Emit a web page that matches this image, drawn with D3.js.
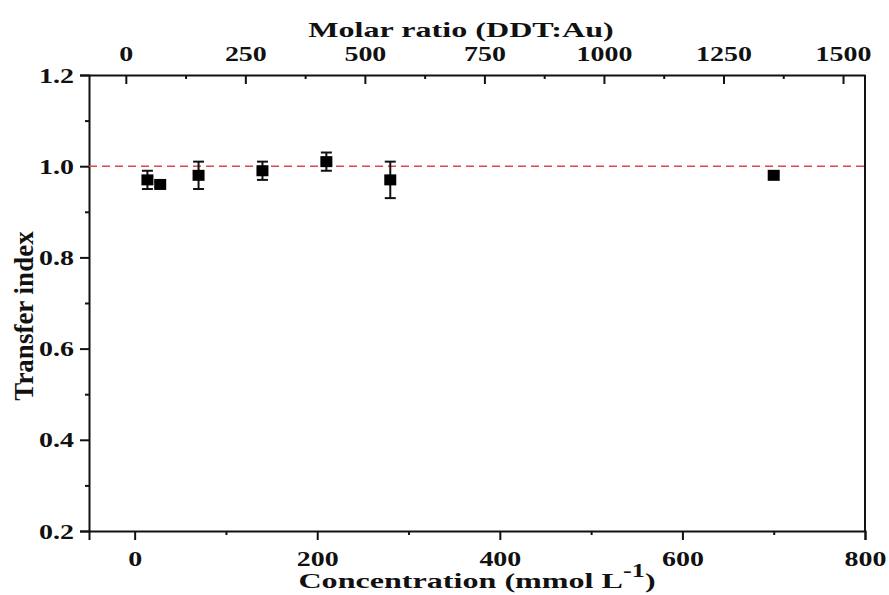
<!DOCTYPE html>
<html>
<head>
<meta charset="utf-8">
<script src="https://cdn.jsdelivr.net/npm/d3@7"></script>
<style>
  html, body { margin: 0; padding: 0; background: #fff; }
  svg { display: block; }
</style>
</head>
<body>
<script>
// concentration (mmol L-1), transfer index, error (±)
const concentration = [14, 28, 70, 140, 210, 280, 700];
const transferIndex = [0.97, 0.96, 0.98, 0.99, 1.01, 0.97, 0.98];
const errors = [0.02, 0.005, 0.03, 0.02, 0.02, 0.04, 0];

const bottomTicks = [0, 200, 400, 600, 800];
const bottomMinor = [100, 300, 500, 700];
const topTicks = [0, 250, 500, 750, 1000, 1250, 1500];
const topMinor = [125, 375, 625, 875, 1125, 1375];
const leftTicks = [0.2, 0.4, 0.6, 0.8, 1.0, 1.2];
const leftMinor = [0.3, 0.5, 0.7, 0.9, 1.1];
const referenceLevel = 1.0;

const width = 889, height = 595;
const margin = { top: 75, right: 24, bottom: 64, left: 89 };
const innerW = width - margin.left - margin.right;
const innerH = height - margin.top - margin.bottom;
const font = "'Liberation Serif', 'Times New Roman', serif";
const ink = "#111";
const tickStretch = 1.27;   // the original lettering is wide
const titleStretch = 1.46;

const svg = d3.select("body").append("svg")
  .attr("width", width)
  .attr("height", height)
  .style("font-family", font);

const g = svg.append("g")
  .attr("transform", `translate(${margin.left},${margin.top})`);

const x = d3.scaleLinear().domain([-50, 800]).range([0, innerW]);
const xTop = d3.scaleLinear().domain([-77, 1546]).range([0, innerW]);
const y = d3.scaleLinear().domain([0.2, 1.2]).range([innerH, 0]);

function styleAxis(sel) {
  sel.attr("font-size", null).attr("font-family", null);
  sel.selectAll("path, line").attr("stroke", ink).attr("stroke-width", 2);
  sel.selectAll("text")
    .attr("fill", ink)
    .attr("transform", `scale(${tickStretch},1)`)
    .style("font-size", "22px")
    .style("font-weight", "bold")
    .style("font-family", font);
}

// bottom
g.append("g")
  .attr("transform", `translate(0,${innerH})`)
  .call(d3.axisBottom(x).tickValues(bottomTicks).tickSize(9).tickPadding(10).tickFormat(d3.format("d")))
  .call(styleAxis);
g.append("g")
  .attr("transform", `translate(0,${innerH})`)
  .call(d3.axisBottom(x).tickValues(bottomMinor).tickSize(4).tickFormat(""))
  .call(styleAxis)
  .call(s => s.select(".domain").remove());

// top (inward ticks)
g.append("g")
  .call(d3.axisTop(xTop).tickValues(topTicks).tickSizeInner(-9).tickSizeOuter(0).tickPadding(14).tickFormat(d3.format("d")))
  .call(styleAxis);
g.append("g")
  .call(d3.axisTop(xTop).tickValues(topMinor).tickSizeInner(-4).tickSizeOuter(0).tickFormat(""))
  .call(styleAxis)
  .call(s => s.select(".domain").remove());

// left
g.append("g")
  .call(d3.axisLeft(y).tickValues(leftTicks).tickSize(9).tickFormat(d3.format(".1f")))
  .call(styleAxis)
  .call(s => s.selectAll("text").attr("x", -15 / tickStretch));
g.append("g")
  .call(d3.axisLeft(y).tickValues(leftMinor).tickSize(4).tickFormat(""))
  .call(styleAxis)
  .call(s => s.select(".domain").remove());

// right frame line
g.append("line")
  .attr("x1", innerW).attr("x2", innerW)
  .attr("y1", 0).attr("y2", innerH)
  .attr("stroke", ink).attr("stroke-width", 2);

// reference line
g.append("line")
  .attr("x1", 0).attr("x2", innerW)
  .attr("y1", y(referenceLevel)).attr("y2", y(referenceLevel))
  .attr("stroke", "#e0474c")
  .attr("stroke-width", 1.5)
  .attr("stroke-dasharray", "8,5");

// error bars
const pts = concentration.map((c, i) => ({ c, v: transferIndex[i], e: errors[i] }));
const capW = 5.5;
const bars = g.append("g").attr("stroke", ink).attr("stroke-width", 2);
pts.filter(d => d.e > 0).forEach(d => {
  bars.append("line")
    .attr("x1", x(d.c)).attr("x2", x(d.c))
    .attr("y1", y(d.v - d.e)).attr("y2", y(d.v + d.e));
  bars.append("line")
    .attr("x1", x(d.c) - capW).attr("x2", x(d.c) + capW)
    .attr("y1", y(d.v + d.e)).attr("y2", y(d.v + d.e));
  bars.append("line")
    .attr("x1", x(d.c) - capW).attr("x2", x(d.c) + capW)
    .attr("y1", y(d.v - d.e)).attr("y2", y(d.v - d.e));
});

// markers
const msW = 12, msH = 11;
g.append("g").selectAll("rect")
  .data(pts)
  .join("rect")
  .attr("x", d => x(d.c) - msW / 2)
  .attr("y", d => y(d.v) - msH / 2)
  .attr("width", msW)
  .attr("height", msH)
  .attr("fill", "#000");

// axis titles
svg.append("text")
  .attr("transform", `translate(461,37) scale(${titleStretch},1)`)
  .attr("text-anchor", "middle")
  .attr("fill", ink)
  .style("font-size", "22px")
  .style("font-weight", "bold")
  .text("Molar ratio (DDT:Au)");

const xt = svg.append("text")
  .attr("transform", `translate(477,588) scale(${titleStretch},1)`)
  .attr("text-anchor", "middle")
  .attr("fill", ink)
  .style("font-size", "22px")
  .style("font-weight", "bold");
xt.append("tspan").text("Concentration (mmol L");
xt.append("tspan").attr("dy", -11).style("font-size", "18px").text("-1");
xt.append("tspan").attr("dy", 11).text(")");

svg.append("text")
  .attr("transform", `translate(33,316) rotate(-90)`)
  .attr("text-anchor", "middle")
  .attr("fill", ink)
  .style("font-size", "27px")
  .style("font-weight", "bold")
  .text("Transfer index");
</script>
</body>
</html>
